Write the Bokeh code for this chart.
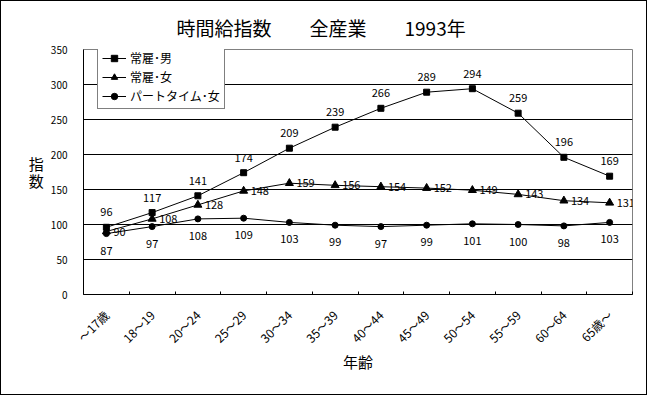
import numpy as np
from bokeh.plotting import figure
from bokeh.models import (Range1d, FixedTicker, Legend, LegendItem, ColumnDataSource)
from bokeh.core.properties import value
from bokeh.embed import file_html
from bokeh.resources import INLINE

FONT = "Noto Sans CJK JP"

title_text = "時間給指数　　全産業　　1993年"
categories = ["～17歳", "18～19", "20～24", "25～29", "30～34", "35～39",
              "40～44", "45～49", "50～54", "55～59", "60～64", "65歳～"]
male = [96, 117, 141, 174, 209, 239, 266, 289, 294, 259, 196, 169]
female = [90, 108, 128, 148, 159, 156, 154, 152, 149, 143, 134, 131]
part = [87, 97, 108, 109, 103, 99, 97, 99, 101, 100, 98, 103]
y_ticks = [0, 50, 100, 150, 200, 250, 300, 350]
series_names = ["常雇･男", "常雇･女", "パートタイム･女"]

n = len(categories)
xs = (np.arange(n) + 0.5).tolist()

p = figure(width=647, height=395, output_backend="svg", toolbar_location=None,
           x_range=Range1d(0, n), y_range=Range1d(0, 350),
           min_border_left=82, min_border_right=16, min_border_top=48,
           min_border_bottom=102)
p.styles = {"border": "1px solid black"}
p.background_fill_color = "white"
p.border_fill_color = "white"
p.outline_line_color = "#808080"
p.outline_line_width = 1

p.title.text = title_text
p.title.text_font = FONT
p.title.text_font_size = "19px"
p.title.text_font_style = "normal"
p.title.text_color = "black"
p.title.align = "left"
p.title.offset = 93
p.title.standoff = 18

# x axis
xa = p.xaxis[0]
xa.ticker = FixedTicker(ticks=xs, minor_ticks=list(range(0, n + 1)))
xa.major_label_overrides = {x: c for x, c in zip(xs, categories)}
xa.major_tick_line_color = None
xa.major_tick_in = 0
xa.major_tick_out = 0
xa.minor_tick_in = 3
xa.minor_tick_out = 0
xa.minor_tick_line_color = "black"
xa.axis_line_color = "black"
xa.major_label_orientation = np.pi / 4
xa.major_label_text_font = FONT
xa.major_label_text_font_size = "12px"
xa.major_label_text_color = "black"
xa.major_label_standoff = 18
xa.axis_label = "年齢"
xa.axis_label_text_font = FONT
xa.axis_label_text_font_size = "15px"
xa.axis_label_text_font_style = "normal"
xa.axis_label_text_color = "black"
xa.axis_label_standoff = -4

# y axis
ya = p.yaxis[0]
ya.ticker = FixedTicker(ticks=y_ticks)
ya.major_tick_in = 0
ya.major_tick_out = 0
ya.minor_tick_line_color = None
ya.axis_line_color = "black"
ya.major_label_text_font = FONT
ya.major_label_text_font_size = "10px"
ya.major_label_text_color = "black"
ya.major_label_standoff = 16
ya.axis_label = "指\n数"
ya.axis_label_orientation = "horizontal"
ya.axis_label_text_font = FONT
ya.axis_label_text_font_size = "15px"
ya.axis_label_text_font_style = "normal"
ya.axis_label_text_color = "black"
ya.axis_label_text_line_height = 0.85
ya.axis_label_standoff = 4

p.xgrid.grid_line_color = None
p.ygrid.ticker = FixedTicker(ticks=y_ticks[1:-1])
p.ygrid.grid_line_color = "black"
p.ygrid.grid_line_width = 1

src = ColumnDataSource(dict(x=xs, male=male, female=female, part=part,
                            tm=[str(v) for v in male],
                            tf=[str(v) for v in female],
                            tp=[str(v) for v in part]))

lm = p.line("x", "male", source=src, line_color="black", line_width=1)
sm = p.scatter("x", "male", source=src, marker="square", size=6,
               fill_color="black", line_color="black")
lf = p.line("x", "female", source=src, line_color="black", line_width=1)
sf = p.scatter("x", "female", source=src, marker="triangle", size=8,
               fill_color="black", line_color="black")
lp = p.line("x", "part", source=src, line_color="black", line_width=1)
sp = p.scatter("x", "part", source=src, marker="circle", size=6,
               fill_color="black", line_color="black")

p.text("x", "male", text="tm", source=src, y_offset=-15, text_align="center",
       text_baseline="middle", text_font=value(FONT), text_font_size="11px",
       text_color="black")
p.text("x", "female", text="tf", source=src, x_offset=7, text_align="left",
       text_baseline="middle", text_font=value(FONT), text_font_size="11px",
       text_color="black")
p.text("x", "part", text="tp", source=src, y_offset=17, text_align="center",
       text_baseline="middle", text_font=value(FONT), text_font_size="11px",
       text_color="black")

legend = Legend(items=[
    LegendItem(label=series_names[0], renderers=[lm, sm]),
    LegendItem(label=series_names[1], renderers=[lf, sf]),
    LegendItem(label=series_names[2], renderers=[lp, sp]),
], location=(14, 185))
legend.label_text_font = FONT
legend.label_text_font_size = "12px"
legend.label_text_color = "black"
legend.border_line_color = "black"
legend.border_line_width = 1
legend.background_fill_color = "white"
legend.background_fill_alpha = 1
legend.padding = 4
legend.spacing = 2
legend.margin = 0
legend.glyph_width = 24
legend.glyph_height = 16
legend.label_height = 16
legend.label_standoff = 4
p.add_layout(legend, "center")

open("out.html", "w").write(file_html(p, INLINE))
